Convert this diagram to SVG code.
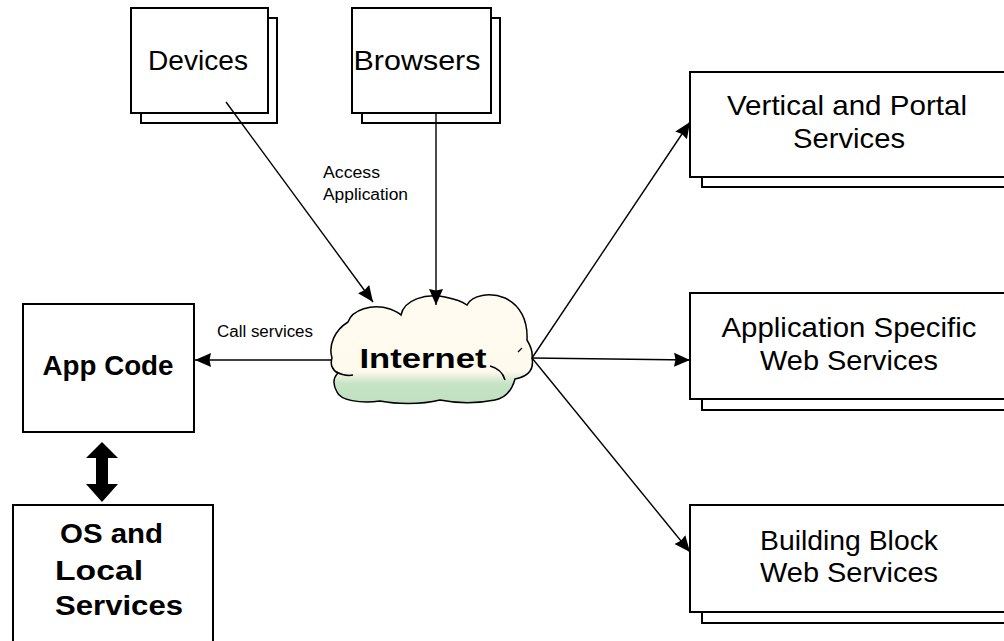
<svg xmlns="http://www.w3.org/2000/svg" width="1004" height="641" viewBox="0 0 1004 641">
<style>
.box{fill:#fff;stroke:#000;stroke-width:2}
.t{font-family:"Liberation Sans",Arial,sans-serif;font-size:28px;fill:#000}
.tb{font-family:"Liberation Sans",Arial,sans-serif;font-size:27px;font-weight:bold;fill:#000}
.s{font-family:"Liberation Sans",Arial,sans-serif;font-size:16px;fill:#000}
.c{fill:none;stroke:#000;stroke-width:1.4}
</style>
<defs>
<marker id="ah" markerUnits="userSpaceOnUse" markerWidth="18" markerHeight="16" refX="16" refY="8" orient="auto">
<path d="M0,1 L16,8 L0,15 L1.5,8 z" fill="#000"/>
</marker>
<linearGradient id="cg" x1="0" y1="0" x2="0" y2="1">
<stop offset="0" stop-color="#fffbf0"/>
<stop offset="0.7" stop-color="#fffaee"/>
<stop offset="0.82" stop-color="#c6e3c6"/>
<stop offset="1" stop-color="#c0dfc0"/>
</linearGradient>
</defs>
<rect width="1004" height="641" fill="#fff"/>

<g id="devices">
<rect class="box" x="141" y="18" width="136" height="105"/>
<rect class="box" x="131" y="8" width="137" height="105"/>
<text class="t" x="198" y="70" text-anchor="middle" textLength="100" lengthAdjust="spacingAndGlyphs">Devices</text>
</g>
<g id="browsers">
<rect class="box" x="362" y="18" width="138" height="105"/>
<rect class="box" x="352" y="8" width="139" height="105"/>
<text class="t" x="417" y="70" text-anchor="middle" textLength="127" lengthAdjust="spacingAndGlyphs">Browsers</text>
</g>

<g id="vertical">
<rect class="box" x="702" y="82" width="320" height="105"/>
<rect class="box" x="690" y="72" width="330" height="105"/>
<text class="t" x="847" y="115" text-anchor="middle" textLength="240" lengthAdjust="spacingAndGlyphs">Vertical and Portal</text>
<text class="t" x="849" y="148" text-anchor="middle" textLength="112" lengthAdjust="spacingAndGlyphs">Services</text>
</g>
<g id="appspecific">
<rect class="box" x="702" y="303" width="320" height="107"/>
<rect class="box" x="690" y="293" width="330" height="106"/>
<text class="t" x="849" y="337" text-anchor="middle" textLength="255" lengthAdjust="spacingAndGlyphs">Application Specific</text>
<text class="t" x="849" y="370" text-anchor="middle" textLength="178" lengthAdjust="spacingAndGlyphs">Web Services</text>
</g>
<g id="buildingblock">
<rect class="box" x="702" y="515" width="320" height="108"/>
<rect class="box" x="690" y="505" width="330" height="107"/>
<text class="t" x="849" y="550" text-anchor="middle" textLength="178" lengthAdjust="spacingAndGlyphs">Building Block</text>
<text class="t" x="849" y="582" text-anchor="middle" textLength="178" lengthAdjust="spacingAndGlyphs">Web Services</text>
</g>

<g id="appcode">
<rect class="box" x="23" y="304" width="171" height="128"/>
<text class="tb" x="108" y="375" text-anchor="middle" textLength="131" lengthAdjust="spacingAndGlyphs">App Code</text>
</g>
<g id="os">
<rect class="box" x="13" y="505" width="200" height="150"/>
<text class="tb" x="60" y="543" textLength="103" lengthAdjust="spacingAndGlyphs">OS and</text>
<text class="tb" x="55" y="580" textLength="88" lengthAdjust="spacingAndGlyphs">Local</text>
<text class="tb" x="55" y="615" textLength="128" lengthAdjust="spacingAndGlyphs">Services</text>
</g>

<g id="internet">
<path d="M332,358 C328,345 335,330 348,322 C352,310 372,303 390,309 C395,311 399,313 401,315 C404,300 425,293 445,297 C455,299 463,302 467,305 C472,295 490,292 505,298 C520,305 528,320 527,340 C530,345 533,352 532,358 C534,368 530,376 515,379 C512,390 505,398 495,400 C470,405 450,402 440,400 C420,405 395,404 380,401 C360,404 340,400 337,392 C333,385 333,378 338,373 C332,370 330,364 332,358 Z" fill="url(#cg)" stroke="#000" stroke-width="1.5"/>
<path d="M490,366 C498,368 503,373 505,380" fill="none" stroke="#000" stroke-width="1.5"/>
<path d="M336,372 C342,375 348,376 353,375" fill="none" stroke="#000" stroke-width="1.5"/>
<path d="M518,352 L522,348" fill="none" stroke="#000" stroke-width="1.2"/>
<text class="tb" x="423" y="368" text-anchor="middle" font-size="28" textLength="127" lengthAdjust="spacingAndGlyphs">Internet</text>
</g>

<g id="connectors">
<line class="c" x1="226" y1="102" x2="373" y2="302" marker-end="url(#ah)"/>
<line class="c" x1="436" y1="113" x2="436" y2="305" marker-end="url(#ah)"/>
<line class="c" x1="332" y1="360" x2="195" y2="360" marker-end="url(#ah)"/>
<line class="c" x1="532" y1="358" x2="690" y2="122" marker-end="url(#ah)"/>
<line class="c" x1="532" y1="358" x2="690" y2="360" marker-end="url(#ah)"/>
<line class="c" x1="532" y1="358" x2="690" y2="552" marker-end="url(#ah)"/>
<polygon points="102,442 118,458 108,458 108,484 118,484 102,502 86,484 96,484 96,458 86,458" fill="#000"/>
<text class="s" x="323" y="178" textLength="57" lengthAdjust="spacingAndGlyphs">Access</text>
<text class="s" x="323" y="200" textLength="85" lengthAdjust="spacingAndGlyphs">Application</text>
<text class="s" x="217" y="337" textLength="96" lengthAdjust="spacingAndGlyphs">Call services</text>
</g>
</svg>
